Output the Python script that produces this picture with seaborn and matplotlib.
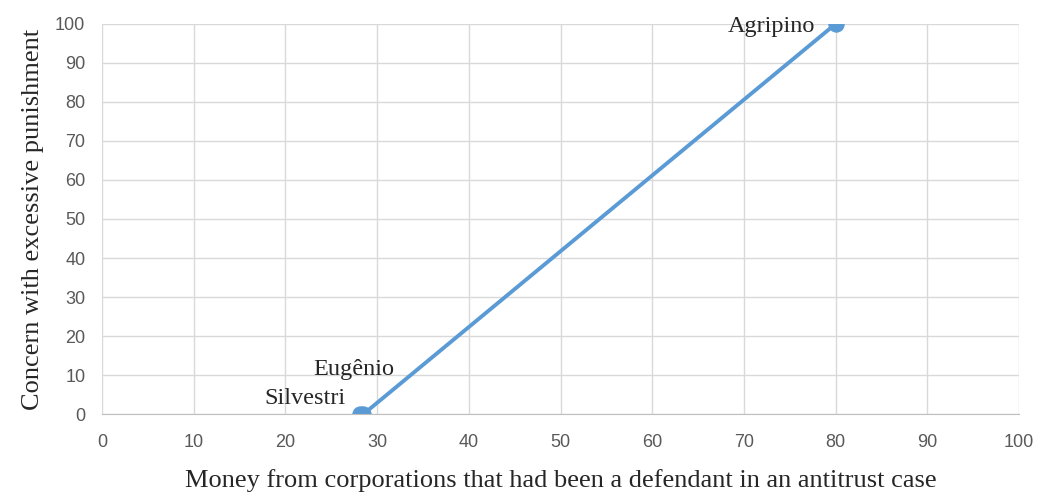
import matplotlib
matplotlib.use("Agg")
import matplotlib.pyplot as plt
import seaborn as sns
import pandas as pd

# Daten
names = ["Silvestri", "Eugênio", "Agripino"]
money = [28.1, 28.5, 80]
concern = [0, 0, 100]

df = pd.DataFrame({"name": names, "money": money, "concern": concern})

sns.set_style("white")
fig = plt.figure(figsize=(10.41, 4.96), dpi=100)
ax = fig.add_axes([0.098, 0.165, 0.881, 0.787])

blue = "#5B9BD5"
sns.lineplot(data=df, x="money", y="concern", ax=ax, color=blue, linewidth=2.8,
             marker="o", markersize=11, markeredgecolor=blue, sort=False)

ax.set_xlim(0, 100)
ax.set_ylim(0, 100)
ax.set_xticks(range(0, 101, 10))
ax.set_yticks(range(0, 101, 10))
ax.grid(True, color="#D9D9D9", linewidth=1)
ax.set_axisbelow(True)
for s in ["top", "right", "left"]:
    ax.spines[s].set_visible(False)
ax.spines["bottom"].set_color("#BFBFBF")
ax.tick_params(axis="both", length=0, labelsize=13, labelcolor="#595959")
ax.tick_params(axis="x", pad=14)
ax.tick_params(axis="y", pad=12)
for lab in ax.get_xticklabels() + ax.get_yticklabels():
    lab.set_fontfamily("Liberation Sans")

serif = "Liberation Serif"
ax.set_xlabel("Money from corporations that had been a defendant in an antitrust case",
              fontsize=19, family=serif, labelpad=13.5)
ax.set_ylabel("Concern with excessive punishment", fontsize=19, family=serif, labelpad=8)

# Beschriftungen
offsets = {"Silvestri": (-10, 11.5), "Eugênio": (22, 32), "Agripino": (-15, -2)}
for n, xv, yv in zip(names, money, concern):
    ax.annotate(n, (xv, yv), xytext=offsets[n], textcoords="offset points",
                ha="right", va="center", fontsize=17.5, family=serif)

fig.savefig("out.png", dpi=100)
